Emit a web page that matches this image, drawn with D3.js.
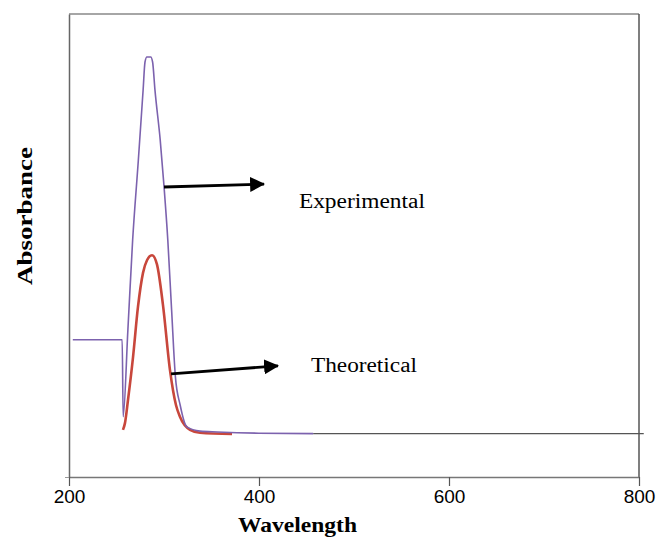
<!DOCTYPE html>
<html lang="en">
<head>
  <meta charset="UTF-8">
  <title>Absorbance</title>
  <script src="https://d3js.org/d3.v7.min.js"></script>
  <style>
    body { margin: 0; background: #fff; }
  </style>
</head>
<body>
<script>
  // wavelength (nm), absorbance (arbitrary units)
  const experimental = [
    [204, 0.326], [256, 0.326], [257, 0.143], [262, 0.35], [267, 0.563],
    [273, 0.753], [278, 0.919], [280, 0.986], [282, 0.998], [286, 0.998],
    [288, 0.986], [290.5, 0.919], [296, 0.801], [300, 0.691], [304, 0.563],
    [308, 0.397], [312, 0.238], [317, 0.171], [324, 0.119], [338, 0.109],
    [356, 0.107], [400, 0.104], [457, 0.103]
  ];
  const theoretical = [
    [256.8, 0.112], [258.9, 0.128], [262.1, 0.183], [267.4, 0.285],
    [272.6, 0.404], [277.9, 0.485], [282.1, 0.515], [287.4, 0.527],
    [292.6, 0.505], [298.9, 0.409], [306.3, 0.254], [312.6, 0.171],
    [316.8, 0.143], [327.4, 0.112], [337.9, 0.105], [371.6, 0.102]
  ];
  const baseline = [[457, 0.103], [805, 0.103]];
  const xTicks = [200, 400, 600, 800];

  // arrows and labels, in data units
  const arrows = [
    { from: [300, 0.689], to: [405.3, 0.696] },
    { from: [307.4, 0.245], to: [420, 0.264] }
  ];
  const notes = [
    { text: "Experimental", at: [442, 0.639], len: 126 },
    { text: "Theoretical", at: [454.7, 0.25], len: 106 }
  ];

  const width = 659, height = 538;
  const margin = { top: 14, right: 20, bottom: 61, left: 69 };

  const svg = d3.select("body").append("svg")
    .attr("width", width)
    .attr("height", height);

  const x = d3.scaleLinear().domain([200, 800]).range([margin.left, width - margin.right]);
  const y = d3.scaleLinear().domain([0, 1.1]).range([height - margin.bottom, margin.top]);

  // frame: top and right
  svg.append("line")
    .attr("x1", x(200)).attr("x2", x(800))
    .attr("y1", y(1.1)).attr("y2", y(1.1))
    .attr("stroke", "#888").attr("stroke-width", 1.5);
  svg.append("line")
    .attr("x1", x(800)).attr("x2", x(800))
    .attr("y1", y(1.1)).attr("y2", y(0))
    .attr("stroke", "#555").attr("stroke-width", 1.5);

  // x axis
  const xAxis = svg.append("g")
    .attr("transform", `translate(0,${y(0)})`)
    .call(d3.axisBottom(x).tickValues(xTicks).tickSize(9).tickPadding(4).tickSizeOuter(0));
  xAxis.select(".domain").attr("stroke", "#777").attr("stroke-width", 1.5);
  xAxis.selectAll(".tick line").attr("stroke", "#555").attr("stroke-width", 1.2);
  xAxis.selectAll(".tick text")
    .attr("font-family", "Liberation Sans, Arial, sans-serif")
    .attr("font-size", 19)
    .attr("fill", "#000");

  // y axis, no labels
  const yAxis = svg.append("g")
    .attr("transform", `translate(${x(200)},0)`)
    .call(d3.axisLeft(y).tickValues([0]).tickSize(4).tickFormat("").tickSizeOuter(0));
  yAxis.select(".domain").attr("stroke", "#666").attr("stroke-width", 1.5);
  yAxis.selectAll(".tick line").attr("stroke", "#999");

  const line = d3.line()
    .x(d => x(d[0]))
    .y(d => y(d[1]))
    .curve(d3.curveMonotoneX);

  svg.append("path").datum(baseline)
    .attr("d", line).attr("fill", "none")
    .attr("stroke", "#555").attr("stroke-width", 1.2);

  svg.append("path").datum(theoretical)
    .attr("d", line).attr("fill", "none")
    .attr("stroke", "#c8473c").attr("stroke-width", 2.6);

  svg.append("path").datum(experimental)
    .attr("d", line).attr("fill", "none")
    .attr("stroke", "#7c62ae").attr("stroke-width", 1.6);

  // arrow heads
  svg.append("defs").append("marker")
    .attr("id", "head")
    .attr("markerUnits", "userSpaceOnUse")
    .attr("viewBox", "0 0 14 14")
    .attr("markerWidth", 15).attr("markerHeight", 15)
    .attr("refX", 13).attr("refY", 7)
    .attr("orient", "auto")
    .append("path").attr("d", "M0,0L14,7L0,14Z").attr("fill", "#000");

  svg.selectAll(".arrow")
    .data(arrows)
    .enter().append("line")
    .attr("class", "arrow")
    .attr("x1", d => x(d.from[0])).attr("y1", d => y(d.from[1]))
    .attr("x2", d => x(d.to[0])).attr("y2", d => y(d.to[1]))
    .attr("stroke", "#000").attr("stroke-width", 2.8)
    .attr("marker-end", "url(#head)");

  svg.selectAll(".note")
    .data(notes)
    .enter().append("text")
    .attr("class", "note")
    .attr("x", d => x(d.at[0])).attr("y", d => y(d.at[1]))
    .attr("font-family", "Liberation Serif, Times New Roman, serif")
    .attr("font-size", 20)
    .attr("textLength", d => d.len)
    .attr("lengthAdjust", "spacingAndGlyphs")
    .text(d => d.text);

  // axis titles
  svg.append("text")
    .attr("x", 238).attr("y", 532)
    .attr("font-family", "Liberation Serif, Times New Roman, serif")
    .attr("font-weight", "bold")
    .attr("font-size", 22)
    .attr("textLength", 119)
    .attr("lengthAdjust", "spacingAndGlyphs")
    .text("Wavelength");

  svg.append("text")
    .attr("transform", "translate(32,216) rotate(-90)")
    .attr("text-anchor", "middle")
    .attr("font-family", "Liberation Serif, Times New Roman, serif")
    .attr("font-weight", "bold")
    .attr("font-size", 22)
    .attr("textLength", 138)
    .attr("lengthAdjust", "spacingAndGlyphs")
    .text("Absorbance");
</script>
</body>
</html>
